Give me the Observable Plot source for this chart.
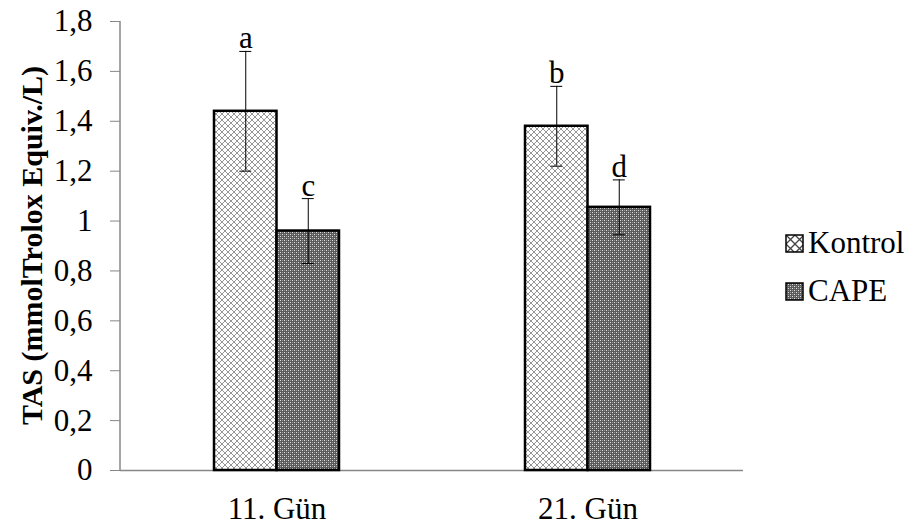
<!DOCTYPE html>
<html>
<head>
<meta charset="utf-8">
<script src="https://cdn.jsdelivr.net/npm/d3@7"></script>
<script src="https://cdn.jsdelivr.net/npm/@observablehq/plot@0.6"></script>
<style>
  html, body { margin: 0; padding: 0; background: #fff; }
  #chart svg { font-family: "Liberation Serif", "Times New Roman", serif; }
</style>
</head>
<body>
<div id="chart"></div>
<script>
// ---- data ----
const days = ["11. Gün", "21. Gün"];
const series = ["Kontrol", "CAPE"];
const kontrolMean = [1.44, 1.38];
const kontrolErr = [0.24, 0.16];
const capeMean = [0.96, 1.055];
const capeErr = [0.13, 0.11];
const kontrolLetters = ["a", "b"];
const capeLetters = ["c", "d"];
const yTicks = [0, 0.2, 0.4, 0.6, 0.8, 1, 1.2, 1.4, 1.6, 1.8];
const yTickLabels = ["0", "0,2", "0,4", "0,6", "0,8", "1", "1,2", "1,4", "1,6", "1,8"];
const yLabel = "TAS (mmolTrolox Equiv./L)";

const kontrol = days.map((d, i) => ({day: d, mean: kontrolMean[i], lo: kontrolMean[i] - kontrolErr[i], hi: kontrolMean[i] + kontrolErr[i], letter: kontrolLetters[i]}));
const cape = days.map((d, i) => ({day: d, mean: capeMean[i], lo: capeMean[i] - capeErr[i], hi: capeMean[i] + capeErr[i], letter: capeLetters[i]}));

const W = 915, H = 527;
const half = 62.5;      // half of group band
const off = half / 2;   // bar center offset from group center
const capHalf = 6;
const fontSize = 31;
const serif = "'Liberation Serif', 'Times New Roman', serif";

const errMarks = (data, sign, left) => {
  const iL = left ? off - capHalf : 2 * half - off - capHalf;
  const iR = left ? 2 * half - (off + capHalf) : off - capHalf;
  return [
    Plot.ruleX(data, {x: "day", y1: "lo", y2: "hi", dx: sign * off, stroke: "black", strokeWidth: 1}),
    Plot.tickY(data, {x: "day", y: "hi", stroke: "black", strokeWidth: 1, insetLeft: iL, insetRight: iR}),
    Plot.tickY(data, {x: "day", y: "lo", stroke: "black", strokeWidth: 1, insetLeft: iL, insetRight: iR}),
    Plot.text(data, {x: "day", y: "hi", text: "letter", dx: sign * off, dy: -3, lineAnchor: "bottom", fontSize, fill: "black"})
  ];
};

const plot = Plot.plot({
  width: W,
  height: H,
  marginLeft: 120,
  marginRight: 172,
  marginTop: 21,
  marginBottom: 57,
  style: {fontFamily: serif, fontSize: fontSize + "px", color: "black", background: "white"},
  x: {domain: days, paddingInner: 0.599, paddingOuter: 0.2995, axis: null},
  y: {domain: [0, 1.8], axis: null},
  marks: [
    Plot.axisX({tickSize: 0, tickPadding: 26, fontSize, label: null}),
    Plot.axisY({ticks: yTicks, tickFormat: (d) => yTickLabels[yTicks.indexOf(d)], tickSize: 10, tickPadding: 18, stroke: "#878787", fill: "black", fontSize, label: null}),
    Plot.ruleY([0], {stroke: "#878787", strokeWidth: 1.5}),
    Plot.barY(kontrol, {x: "day", y: "mean", fill: "url(#patKontrol)", stroke: "black", strokeWidth: 2.5, insetRight: half}),
    Plot.barY(cape, {x: "day", y: "mean", fill: "url(#patCape)", stroke: "black", strokeWidth: 2.5, insetLeft: half}),
    ...errMarks(kontrol, -1, true),
    ...errMarks(cape, 1, false)
  ]
});

const svg = d3.select(plot);
const defs = svg.insert("defs", ":first-child");
const pk = defs.append("pattern").attr("id", "patKontrol").attr("patternUnits", "userSpaceOnUse").attr("width", 6).attr("height", 6);
pk.append("rect").attr("width", 6).attr("height", 6).attr("fill", "white");
pk.append("path").attr("d", "M0,0L6,6M6,0L0,6").attr("stroke", "#8a8a8a").attr("stroke-width", 0.9);
const pc = defs.append("pattern").attr("id", "patCape").attr("patternUnits", "userSpaceOnUse").attr("width", 4).attr("height", 4);
pc.append("rect").attr("width", 4).attr("height", 4).attr("fill", "#5a5a5a");
pc.append("rect").attr("x", 0).attr("y", 0).attr("width", 1).attr("height", 1).attr("fill", "#e0e0e0");
pc.append("rect").attr("x", 2).attr("y", 2).attr("width", 1).attr("height", 1).attr("fill", "#e0e0e0");
pc.append("rect").attr("x", 2).attr("y", 0).attr("width", 1).attr("height", 1).attr("fill", "#999");
pc.append("rect").attr("x", 0).attr("y", 2).attr("width", 1).attr("height", 1).attr("fill", "#999");
const pkl = defs.append("pattern").attr("id", "patKontrolLeg").attr("patternUnits", "userSpaceOnUse").attr("width", 9).attr("height", 9).attr("x", 786).attr("y", 235);
pkl.append("rect").attr("width", 9).attr("height", 9).attr("fill", "white");
pkl.append("path").attr("d", "M0,0L9,9M9,0L0,9").attr("stroke", "#444").attr("stroke-width", 1.3);

// y-axis line
const ys = plot.scale("y");
svg.append("line").attr("x1", 120).attr("x2", 120).attr("y1", ys.range[0]).attr("y2", ys.range[1]).attr("stroke", "#878787").attr("stroke-width", 1.5);

// y label
svg.append("text").attr("transform", `translate(31,${(ys.range[0] + ys.range[1]) / 2}) rotate(-90)`)
  .attr("text-anchor", "middle").attr("dy", "0.35em").attr("font-weight", "bold").attr("font-family", serif).attr("font-size", 30).attr("fill", "black").text(yLabel);

// legend
const leg = svg.append("g").attr("font-size", fontSize).attr("font-family", serif).attr("fill", "black").attr("text-anchor", "start");
const legFills = ["url(#patKontrolLeg)", "url(#patCape)"];
series.forEach((s, i) => {
  const y0 = 235 + i * 48;
  leg.append("rect").attr("x", 786).attr("y", y0).attr("width", 17).attr("height", 17).attr("fill", legFills[i]).attr("stroke", "black").attr("stroke-width", 1.5);
  leg.append("text").attr("x", 808).attr("y", y0 + 18).attr("font-family", serif).text(s);
});

document.getElementById("chart").appendChild(plot);
</script>
</body>
</html>
